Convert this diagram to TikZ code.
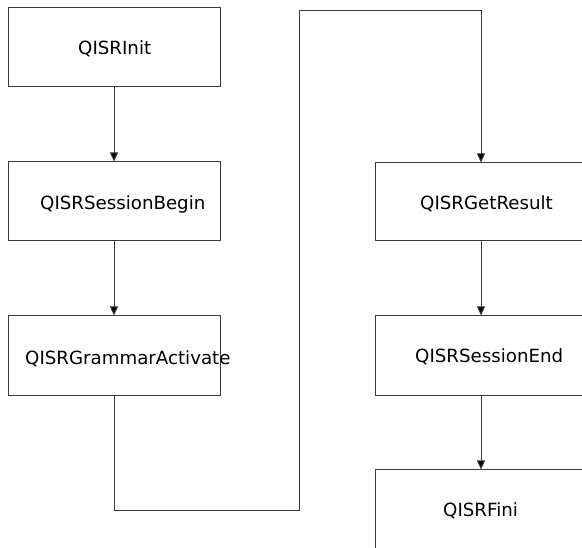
\documentclass[tikz,border=0pt]{standalone}
\usepackage{fontspec}
\setmainfont{DejaVu Sans}
\usetikzlibrary{arrows.meta}
\definecolor{edge}{HTML}{3A3A3A}
\tikzset{
  stepbox/.style={draw=edge, line width=1pt, rectangle, minimum width=212pt, inner sep=0pt},
  steptext/.style={anchor=base west, inner sep=0pt, font=\fontsize{18.2}{21}\selectfont},
  flow/.style={draw=edge, line width=1pt, -{Triangle[width=8pt,length=9pt,fill=black]}}
}
\begin{document}
\begin{tikzpicture}[x=1pt,y=-1pt]
\useasboundingbox (0,0) rectangle (582,548);
\clip (0,0) rectangle (582,548);
\node[stepbox, minimum height=79pt] (b1) at (114,47.5) {};
\node[stepbox, minimum height=79pt] (b2) at (114,201.5) {};
\node[stepbox, minimum height=80pt] (b3) at (114,356) {};
\node[stepbox, minimum height=78pt] (b4) at (481,202) {};
\node[stepbox, minimum height=80pt] (b5) at (481,356) {};
\node[stepbox, minimum height=80pt] (b6) at (481,510) {};
\node[steptext] (t1) at (78,55) {QISRInit};
\node[steptext] (t2) at (40,210) {QISRSessionBegin};
\node[steptext] (t3) at (25,365) {QISRGrammarActivate};
\node[steptext] (t4) at (420,210) {QISRGetResult};
\node[steptext] (t5) at (415,363) {QISRSessionEnd};
\node[steptext] (t6) at (443,517) {QISRFini};
\coordinate (c1) at (299,511);
\coordinate (c2) at (299,11);
\coordinate (c3) at (481,11);
\draw[flow] (b1.south) -- (b2.north);
\draw[flow] (b2.south) -- (b3.north);
\draw[flow] (b3.south) |- (c1) -- (c2) -- (c3) -- (b4.north);
\draw[flow] (b4.south) -- (b5.north);
\draw[flow] (b5.south) -- (b6.north);
\end{tikzpicture}
\end{document}
